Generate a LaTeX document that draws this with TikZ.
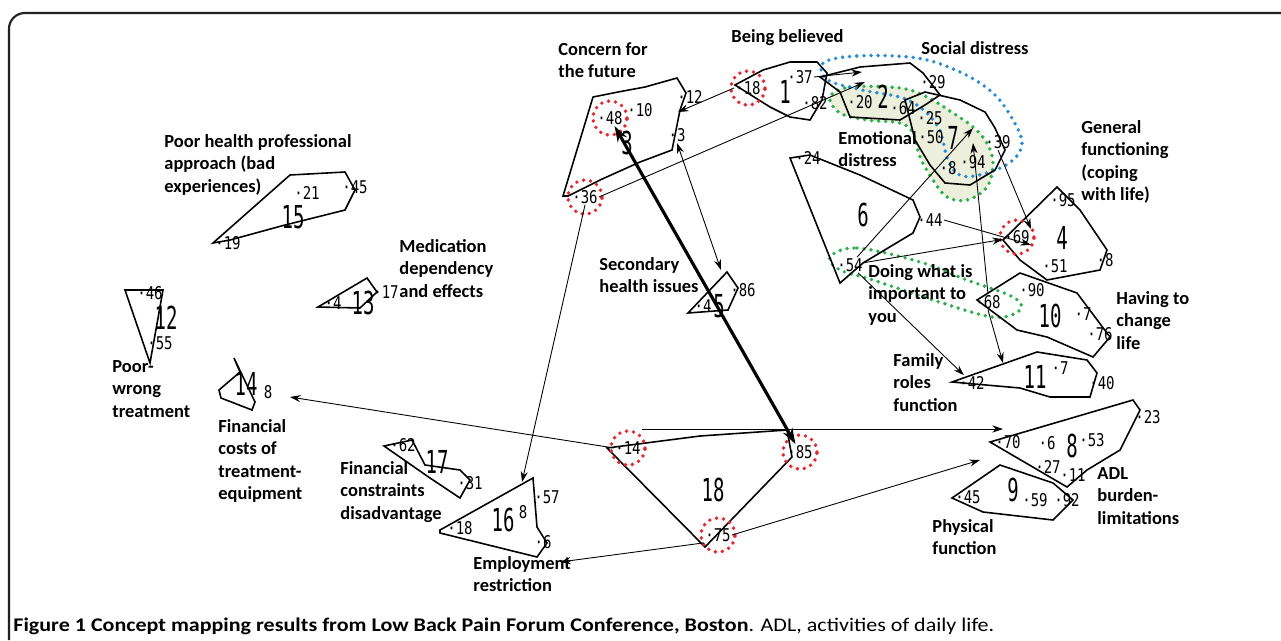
\documentclass[tikz,border=0pt]{standalone}
\usepackage{fontspec}
\setmainfont{Carlito}
\newfontfamily\numfont[FakeStretch=0.6]{DejaVu Sans Mono}
\newfontfamily\ptfont[FakeStretch=0.8]{DejaVu Sans Mono}
\newfontfamily\capfont[FakeStretch=1.14]{Carlito}
\usetikzlibrary{arrows.meta}
\definecolor{cred}{HTML}{E8262B}
\definecolor{cgreen}{HTML}{2DB04B}
\definecolor{cblue}{HTML}{2A8BD6}
\definecolor{cfill}{HTML}{ECEFDC}
\definecolor{cframe}{HTML}{231F20}
\tikzset{
  every picture/.style={x=0.02cm, y=-0.02cm, line width=0.5pt},
  lbl/.style={font=\fontsize{10.5}{12.8}\selectfont\bfseries, align=left, anchor=north west, inner sep=0pt},
  cnum/.style={font=\numfont\fontsize{18}{18}\selectfont, inner sep=0pt},
  ptlbl/.style={font=\ptfont\fontsize{10}{10}\selectfont, inner sep=0.5pt},
  hull/.style={draw, line width=0.9pt, line join=miter},
  link/.style={-{Stealth[length=6pt, width=4pt]}, line width=0.5pt},
  mainlink/.style={{Stealth[length=9pt, width=6pt]}-{Stealth[length=9pt, width=6pt]}, line width=1.8pt},
  hot/.style={draw=cred, line width=2.2pt, line cap=round, dash pattern=on 0pt off 4pt},
  zone/.style={draw=#1, line width=2.2pt, line cap=round, dash pattern=on 0pt off 4pt},
}

\begin{document}
\begin{tikzpicture}
  \useasboundingbox (0,0) rectangle (1281,640);
  % frame
  \draw[cframe, line width=1.2pt, rounded corners=9pt] (9,640) -- (9,13) -- (1281,13);

  % highlighted zones
  \draw[zone=cgreen, fill=cfill] plot[smooth cycle, tension=0.6] coordinates {(830,97) (850,87) (900,88) (927,97) (953,113) (973,127) (987,143) (993,163) (987,187) (967,200) (947,197) (933,180) (920,157) (913,133) (900,123) (867,120) (840,113)};
  \draw[zone=cblue] plot[smooth cycle, tension=0.6] coordinates {(823,63) (857,56) (917,58) (960,72) (993,93) (1013,120) (1022,143) (1013,160) (990,172) (962,176) (948,160) (937,125) (908,100) (862,90) (828,80)};
  \draw[zone=cgreen] plot[smooth cycle, tension=0.6] coordinates {(830,257) (857,248) (920,262) (967,280) (1013,297) (1020,310) (993,317) (933,300) (873,280) (840,270)};

  % cluster hulls
  \draw[hull] (593,97) -- (618,92) -- (645,87) -- (677,78) -- (686,93) -- (680,110) -- (672,150) -- (640,162) -- (600,180) -- (568,196) -- (563,196) -- cycle;
  \draw[hull] (735,85) -- (763,70) -- (790,62) -- (817,62) -- (827,73) -- (822,100) -- (810,120) -- (790,117) -- (770,107) -- cycle;
  \draw[hull] (820,77) -- (860,67) -- (910,63) -- (923,73) -- (940,95) -- (925,105) -- (900,120) -- (850,117) -- (840,92) -- cycle;
  \draw[hull] (905,100) -- (925,92) -- (960,100) -- (985,112) -- (995,128) -- (1005,150) -- (995,170) -- (970,185) -- (945,183) -- (930,165) -- (915,140) -- cycle;
  \draw[hull] (790,158) -- (810,155) -- (860,175) -- (913,200) -- (920,217) -- (913,233) -- (863,263) -- (840,283) -- cycle;
  \draw[hull] (1003,240) -- (1057,187) -- (1080,210) -- (1107,250) -- (1100,270) -- (1047,280) -- (1020,260) -- cycle;
  \draw[hull] (977,300) -- (1020,273) -- (1077,293) -- (1110,337) -- (1093,357) -- (1047,337) -- (1017,330) -- cycle;
  \draw[hull] (952,382) -- (1037,352) -- (1087,360) -- (1097,373) -- (1090,397) -- (1050,397) -- (1020,388) -- cycle;
  \draw[hull] (990,442) -- (1133,400) -- (1140,410) -- (1120,450) -- (1087,470) -- (1067,487) -- cycle;
  \draw[hull] (952,498) -- (1000,465) -- (1053,483) -- (1073,500) -- (1053,520) -- (983,512) -- cycle;
  \draw[hull] (688,313) -- (727,272) -- (738,288) -- (728,310) -- cycle;
  \draw[hull] (213,243) -- (290,175) -- (345,172) -- (355,190) -- (345,210) -- (285,225) -- (230,240) -- cycle;
  \draw[hull] (318,307) -- (367,278) -- (377,292) -- (360,308) -- cycle;
  \draw[hull] (125,290) -- (163,290) -- (150,363) -- cycle;
  \draw[hull] (234,358) -- (240,372) -- (219,390) -- (221,398) -- (252,410) -- (255,402) -- cycle;
  \draw[hull] (384,446) -- (412,440) -- (425,465) -- (460,470) -- (470,480) -- (460,498) -- (430,478) -- cycle;
  \draw[hull] (440,530) -- (533,478) -- (537,527) -- (547,543) -- (537,557) -- (440,533) -- cycle;
  \draw[hull] (607,448) -- (700,436) -- (787,430) -- (792,457) -- (705,547) -- cycle;

  % cluster numbers
  \foreach \n/\x/\y in {3/627/143, 1/785/92, 2/883/97, 7/953/138, 6/863/215, 4/1062/238,
      10/1050/316, 11/1035/377, 15/293/217, 13/363/303, 12/166/318, 14/246/384,
      17/437/462, 16/503/520, 18/713/490, 8/1072/446, 9/1013/490, 5/719/306}
    \node[cnum] (c\n) at (\x,\y) {\n};

  % statements
  \foreach \k/\t/\x/\y in {48/48/610/118, 10/10/640/110, 12/12/690/97, 3/3/677/135, 36/36/585/197,
      18/18/748/88, 37/37/800/77, 62/82/815/103,
      20/20/860/102, 64/64/903/108, 29/29/933/82,
      25/25/930/118, 50/50/931/137, 8/8/948/168, 94/94/973/162, 39/39/998/142,
      24/24/808/158, 44/44/930/220, 54/54/850/265,
      95/95/1063/200, 69/69/1017/237, 51/51/1055/266, 8b/8/1105/260,
      90/90/1032/290, 68/68/988/302, 7/7/1083/314, 76/76/1100/334,
      42/42/972/383, 7b/7/1060/368, 40/40/1102/383,
      70/70/1008/442, 6/6/1047/443, 53/53/1092/440, 23/23/1148/417, 27/27/1048/467, 11/11/1073/475,
      45/45/968/497, 59/59/1035/500, 92/92/1067/500,
      86/86/743/290, 4b/4/703/306,
      21/21/307/193, 45b/45/355/187, 19/19/228/243,
      4/4/333/303, 17/17/386/292,
      46/46/150/293, 55/55/160/343,
      62b/62/403/445, 31/31/470/483,
      57/57/547/497, 18b/18/460/528, 6b/6/543/542,
      14/14/628/448, 85/85/800/452, 75/75/718/535}
    \node[ptlbl] (p\k) at (\x,\y) {·\t};
  \node[ptlbl] (p8c) at (268,392) {8};
  \node[ptlbl] (p8d) at (523,512) {8};

  % highlighted statements
  \foreach \k in {48,36,18,69,14,85,75}
    \draw[hot] (p\k) circle[radius=0.34cm];

  % free ends of links
  \coordinate (h3) at (678,112);
  \coordinate (h2a) at (865,82);
  \coordinate (h2b) at (862,72);
  \coordinate (h5) at (721,270);
  \coordinate (h16) at (522,482);
  \coordinate (h14) at (290,397);
  \coordinate (h8) at (1003,429);
  \coordinate (h9) at (980,460);
  \coordinate (hemp) at (560,562);
  \coordinate (h7a) at (973,128);
  \coordinate (h7b) at (973,143);
  \coordinate (h11) at (1003,363);

  % links
  \draw[mainlink] (p85) -- (p48);
  \draw[link] (p18.west) -- (h3);
  \draw[link] (p36.east) -- (h2a);
  \draw[link] (p37.east) -- (h2b);
  \draw[link, {Stealth[length=6pt, width=4pt]}-{Stealth[length=6pt, width=4pt]}] (p3.south) -- (h5);
  \draw[link] (p36.south) -- (h16);
  \draw[link] (p14.west) -- (h14);
  \draw[link] (p14.north east |- h8) -- (h8);
  \draw[link] (p75.east) -- (h9);
  \draw[link] (p75.south west) -- (hemp);
  \draw[link] (p54) -- (p69);
  \draw[link] (p44.east) -- (p69.south east);
  \draw[link] (p54) -- (h7a);
  \draw[link] (p54) -- (p42);
  \draw[link] (p68.north) -- (h7b);
  \draw[link] (p68.south) -- (h11);
  \draw[link] (p39.south) -- (p69.north east);

  % cluster labels
  \node[lbl] (lfuture) at (558,42) {Concern for\\the future};
  \node[lbl] (lbelieved) at (731,29) {Being believed};
  \node[lbl] (lsocial) at (921,41) {Social distress};
  \node[lbl] (lemotional) at (838,131) {Emotional\\distress};
  \node[lbl] (lgeneral) at (1081,120) {General\\functioning\\(coping\\with life)};
  \node[lbl] (lprof) at (164,134) {Poor health professional\\approach (bad\\experiences)};
  \node[lbl] (lmed) at (399,239) {Medication\\dependency\\and effects};
  \node[lbl] (lsecondary) at (599,257) {Secondary\\health issues};
  \node[lbl] (ldoing) at (868,264) {Doing what is\\important to\\you};
  \node[lbl] (lchange) at (1116,291) {Having to\\change\\life};
  \node[lbl] (lfamily) at (893,353) {Family\\roles\\function};
  \node[lbl] (lwrong) at (112,360) {Poor-\\wrong\\treatment};
  \node[lbl] (lcosts) at (218,419) {Financial\\costs of\\treatment-\\equipment};
  \node[lbl] (lconstr) at (340,461) {Financial\\constraints\\disadvantage};
  \node[lbl] (lemploy) at (473,556) {Employment\\restriction};
  \node[lbl] (lphys) at (932,519) {Physical\\function};
  \node[lbl] (ladl) at (1097,467) {ADL\\burden-\\limitations};

  % caption
  \node[anchor=base west, inner sep=0pt, font=\capfont\fontsize{11}{13}\selectfont] (caption) at (13,631)
    {\textbf{Figure 1 Concept mapping results from Low Back Pain Forum Conference, Boston}. ADL, activities of daily life.};
\end{tikzpicture}
\end{document}
